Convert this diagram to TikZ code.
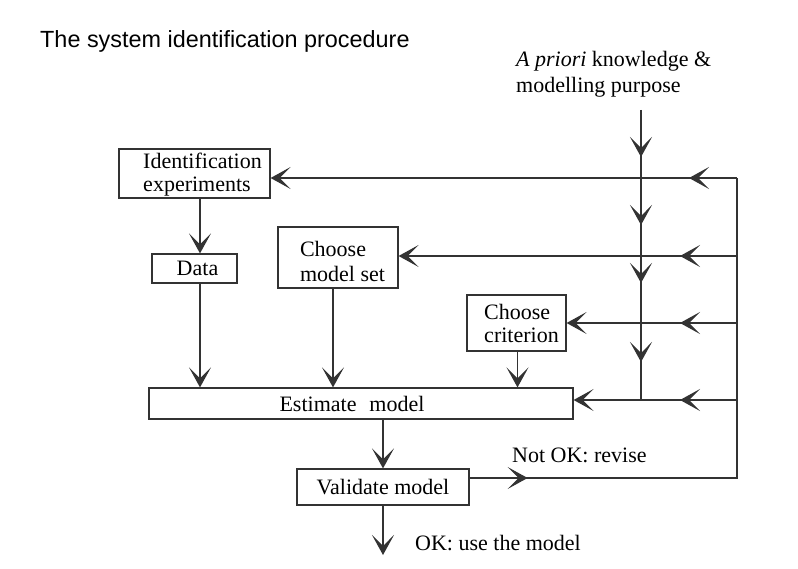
\documentclass[tikz,border=0pt]{standalone}
\usepackage{fontspec}
\setmainfont{Liberation Serif}
\newfontfamily\titlefont{Liberation Sans}
\usetikzlibrary{arrows.meta,decorations.markings}
\tikzset{
  myv/.tip={Stealth[length=20pt,width=22pt,inset=11pt]},
  ln/.style={line width=1.2pt, draw=black!80},
  box/.style={ln, rectangle, inner sep=0pt, font=\fontsize{22}{23}\selectfont},
  conn/.style={ln, -{myv}},
  midarr/.style={postaction={decorate,decoration={markings,mark=at position #1 with {\arrow{myv}}}}},
  lbl/.style={font=\fontsize{22}{26}\selectfont, inner sep=0pt, anchor=base west},
}
\begin{document}
\begin{tikzpicture}[x=1pt,y=-1pt]
\useasboundingbox (0,0) rectangle (798,569);

% title
\node[font=\titlefont\fontsize{23.4}{28}\selectfont, inner sep=0pt, anchor=base west] (title) at (40,48) {The system identification procedure};

% a priori text
\node[lbl] (ap1) at (516,67) {\textit{A priori} knowledge \&};
\node[lbl] (ap2) at (516,93) {modelling purpose};

% boxes
\node[box, align=left, minimum width=151pt, minimum height=49pt] (idexp) at (194.5,173.5)
  {\rule{0pt}{18pt}\hspace*{16pt}Identification\\\hspace*{16pt}experiments};
\node[box, minimum width=85pt, minimum height=29pt] (data) at (194.5,268.5) {\hspace*{6pt}Data};
\node[box, align=left, minimum width=120pt, minimum height=61pt, font=\fontsize{22}{25}\selectfont] (ms) at (338,257.5)
  {\rule{0pt}{24pt}\hspace*{9pt}Choose\\\hspace*{9pt}model set};
\node[box, align=left, minimum width=99pt, minimum height=56pt] (crit) at (516.5,323)
  {\hspace*{10pt}Choose\\\hspace*{10pt}criterion};
\node[box, minimum width=424pt, minimum height=31pt] (est) at (361,403.5)
  {Estimate\hspace{13pt}model\hspace*{18pt}};
\node[box, minimum width=172pt, minimum height=36pt] (val) at (383,487) {Validate model};

% coordinates
\coordinate (xc1) at (200,0);
\coordinate (xc2) at (333,0);
\coordinate (xc3) at (517.5,0);
\coordinate (src) at (641,110);
\coordinate (j4) at (641,400);
\coordinate (r1) at (737,178);
\coordinate (r2) at (737,256);
\coordinate (r3) at (737,323);
\coordinate (r4) at (737,400);
\coordinate (rb) at (737,478);
\coordinate (ok) at (383,555);

% labels
\node[lbl] (notok) at (512,462) {Not OK: revise};
\node[lbl] (oklbl) at (415,550) {OK: use the model};

% connectors
\draw[conn] (idexp.south -| xc1) -- (data.north -| xc1);
\draw[conn] (data.south -| xc1) -- (est.north -| xc1);
\draw[conn] (ms.south -| xc2) -- (est.north -| xc2);
\draw[conn] (crit.south -| xc3) -- (est.north -| xc3);
\draw[conn] (est.south -| val.north) -- (val.north);
\draw[conn] (val.south) -- (ok);

\draw[ln, midarr=47pt, midarr=115pt, midarr=173pt, midarr=252pt] (src) -- (j4);
\draw[conn, midarr=48pt] (r1) -- (r1 -| idexp.east);
\draw[conn, midarr=57pt] (r2) -- (r2 -| ms.east);
\draw[conn, midarr=57pt] (r3) -- (r3 -| crit.east);
\draw[conn, midarr=57pt] (r4) -- (r4 -| est.east);
\draw[ln, midarr=58pt] (rb -| val.east) -- (rb) -- (r1);
\end{tikzpicture}
\end{document}
